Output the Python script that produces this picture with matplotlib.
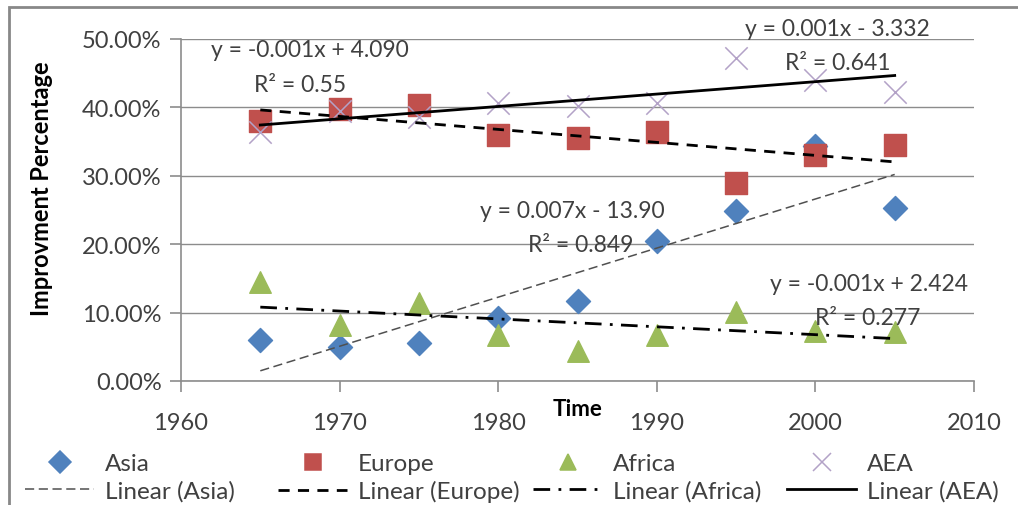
import numpy as np
import matplotlib
matplotlib.use('Agg')
import matplotlib.pyplot as plt
from matplotlib.ticker import PercentFormatter
from matplotlib.lines import Line2D
from matplotlib.patches import Rectangle

plt.rcParams['font.family'] = ['Lato', 'DejaVu Sans']

# data (percent)
years = [1965, 1970, 1975, 1980, 1985, 1990, 1995, 2000, 2005]
asia = [6.0, 5.0, 5.6, 9.2, 11.7, 20.5, 24.9, 34.4, 25.3]
europe = [38.0, 39.8, 40.4, 36.0, 35.5, 36.4, 28.9, 33.0, 34.5]
africa = [14.5, 8.2, 11.4, 6.7, 4.4, 6.7, 10.1, 7.3, 7.2]
aea = [36.4, 39.5, 38.6, 40.6, 40.2, 40.6, 47.2, 44.0, 42.3]

eqs = ['y = 0.007x - 13.90', 'y = -0.001x + 4.090', 'y = -0.001x + 2.424', 'y = 0.001x - 3.332']
r2 = ['R² = 0.849', 'R² = 0.55', 'R² = 0.277', 'R² = 0.641']

txt = '#404040'
grid = '#8c8c8c'

fig = plt.figure(figsize=(10.18, 5.06), dpi=100)
fig.patches.append(Rectangle((9/1018, -0.1), 1.1, 1 - 8/506 + 0.1, transform=fig.transFigure,
                             fill=False, edgecolor='#888888', lw=2))
ax = fig.add_axes([181/1018, 1 - 382/506, (974-181)/1018, (382-40)/506])

x = np.array(years)
series = [
    ('Asia', asia, dict(marker='D', color='#4F81BD', s=150), dict(color='#505050', ls=(0, (6, 3)), lw=1.1)),
    ('Europe', europe, dict(marker='s', color='#C0504D', s=240), dict(color='black', ls=(0, (4, 3)), lw=2)),
    ('Africa', africa, dict(marker='^', color='#9BBB59', s=240), dict(color='black', ls=(0, (6, 3, 1, 3)), lw=2)),
    ('AEA', aea, dict(marker='x', color='#B3A2C7', s=260, linewidths=1.1), dict(color='black', ls='-', lw=2)),
]

handles = []
for name, vals, mk, ln in series:
    ax.scatter(x, vals, zorder=3, **mk)
    k, b = np.polyfit(x, vals, 1)
    ax.plot(x, k * x + b, zorder=4, **ln)
    mh = Line2D([], [], linestyle='none', marker=mk['marker'], color=mk['color'],
                markersize=11 if mk['marker'] != 'x' else 13, markeredgewidth=1.1)
    lh = Line2D([], [], **ln)
    handles.append((mh, name, lh, 'Linear (%s)' % name))

# equation labels
fs = 16.5
ax.text(1984.7, 24.9, eqs[0], ha='center', va='center', fontsize=fs, color=txt, zorder=5)
ax.text(1985.2, 20.0, r2[0], ha='center', va='center', fontsize=fs, color=txt, zorder=5)
ax.text(1968.1, 48.5, eqs[1], ha='center', va='center', fontsize=fs, color=txt, zorder=5)
ax.text(1967.5, 43.3, r2[1], ha='center', va='center', fontsize=fs, color=txt, zorder=5)
ax.text(2003.4, 14.2, eqs[2], ha='center', va='center', fontsize=fs, color=txt, zorder=5)
ax.text(2003.3, 9.3, r2[2], ha='center', va='center', fontsize=fs, color=txt, zorder=5)
ax.text(2001.4, 51.5, eqs[3], ha='center', va='center', fontsize=fs, color=txt, zorder=5, clip_on=False)
ax.text(2001.4, 46.5, r2[3], ha='center', va='center', fontsize=fs, color=txt, zorder=5)

ax.set_xlim(1960, 2010)
ax.set_ylim(0, 50)
ax.set_xticks(range(1960, 2011, 10))
ax.set_yticks(range(0, 51, 10))
ax.yaxis.set_major_formatter(PercentFormatter(xmax=100, decimals=2))
ax.yaxis.grid(True, color=grid, lw=1)
ax.set_axisbelow(True)
for s in ['top', 'right']:
    ax.spines[s].set_visible(False)
for s in ['left', 'bottom']:
    ax.spines[s].set_color(grid)
    ax.spines[s].set_linewidth(1.2)
ax.tick_params(axis='both', direction='out', length=8, color=grid, width=1.2,
               labelsize=17, labelcolor=txt, pad=6)
ax.tick_params(axis='x', pad=14)

ax.set_ylabel('Improvment Percentage', fontsize=17, fontweight='bold', color='black')
ax.yaxis.set_label_coords(-0.162, 0.565)
ax.set_xlabel('Time', fontsize=16, fontweight='bold', color='black')
ax.xaxis.set_label_coords(0.5, -0.05)

# legend: one small legend per column
col_x = [25, 278, 533, 787]
for cx, (mh, n1, lh, n2) in zip(col_x, handles):
    fig.legend([mh, lh], [n1, n2], loc='upper left', bbox_to_anchor=(cx/1018, 1 - 454/506),
               frameon=False, fontsize=17.5, labelcolor=txt, handlelength=2.85,
               handletextpad=0.45, borderaxespad=0, borderpad=0, labelspacing=0.25)

fig.savefig('out.png', dpi=100)
